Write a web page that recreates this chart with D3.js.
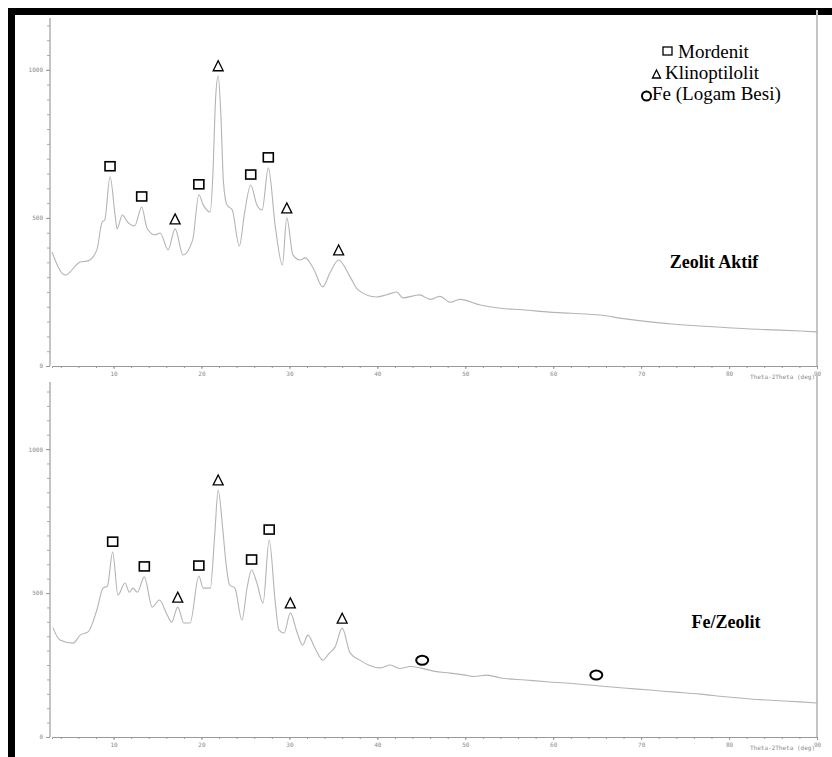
<!DOCTYPE html>
<html>
<head>
<meta charset="utf-8">
<script src="https://cdn.jsdelivr.net/npm/d3@7"></script>
<style>
  body { margin: 0; background: #fff; }
  svg { display: block; }
</style>
</head>
<body>
<svg></svg>
<script>
// data pola XRD (2theta, counts)
const aktifTheta = [3.0, 4.5, 6.2, 7.1, 8.1, 8.7, 9.0, 9.6, 10.2, 10.4, 11.0, 11.6, 12.4, 13.2, 13.8, 14.7, 15.3, 16.2, 17.0, 17.9, 19.0, 19.7, 20.2, 21.0, 21.3, 21.6, 21.9, 22.2, 22.5, 22.9, 23.5, 24.3, 24.9, 25.6, 26.3, 26.9, 27.6, 28.4, 29.2, 29.7, 30.4, 31.2, 31.8, 32.7, 33.8, 34.6, 35.6, 36.9, 37.8, 39.9, 41.0, 42.2, 42.9, 44.8, 46.0, 47.1, 48.3, 49.4, 51.7, 54.0, 56.5, 59.6, 62.0, 65.3, 68.0, 71.0, 73.5, 76.7, 79.5, 82.4, 85.0, 88.1, 90.0];
const aktifCounts = [385, 307, 351, 355, 392, 486, 493, 639, 503, 463, 510, 486, 473, 537, 466, 443, 449, 392, 463, 375, 426, 578, 544, 520, 650, 900, 980, 850, 620, 544, 527, 405, 517, 611, 544, 527, 669, 470, 341, 500, 375, 358, 365, 331, 267, 314, 358, 301, 257, 233, 240, 250, 230, 240, 225, 235, 215, 225, 206, 195, 190, 182, 178, 172, 160, 149, 142, 135, 130, 125, 122, 118, 115];

const feTheta = [3.1, 3.9, 5.4, 6.2, 7.1, 8.1, 8.8, 9.3, 9.9, 10.5, 11.3, 11.8, 12.2, 12.7, 13.5, 14.4, 15.2, 16.1, 16.6, 17.3, 18.0, 18.7, 19.7, 20.2, 21.0, 21.5, 21.9, 22.4, 22.8, 23.2, 23.8, 24.6, 25.2, 25.7, 26.3, 27.0, 27.7, 28.4, 28.8, 29.4, 30.1, 30.9, 31.5, 32.1, 32.9, 33.8, 34.5, 35.2, 36.0, 36.9, 38.0, 39.0, 40.3, 41.5, 42.5, 43.8, 44.9, 46.5, 48.3, 50.0, 51.0, 52.5, 54.0, 56.8, 59.6, 62.5, 65.3, 68.0, 71.0, 73.8, 76.7, 79.5, 82.4, 85.2, 88.1, 90.0];
const feCounts = [380, 337, 326, 354, 365, 441, 517, 524, 642, 493, 535, 503, 517, 503, 556, 451, 476, 424, 399, 451, 396, 396, 559, 517, 517, 700, 858, 729, 600, 528, 517, 406, 521, 580, 535, 465, 684, 465, 372, 361, 431, 361, 319, 354, 309, 267, 290, 313, 378, 292, 267, 250, 240, 250, 238, 245, 240, 228, 222, 215, 210, 215, 205, 198, 191, 185, 177, 170, 163, 156, 149, 140, 132, 127, 122, 118];

// posisi puncak (2theta) yang ditandai
const mordenitAktif = [9.6, 13.2, 19.7, 25.6, 27.6];
const klinoAktif = [17.0, 21.9, 29.7, 35.6];
const mordenitFe = [9.9, 13.5, 19.7, 25.7, 27.7];
const klinoFe = [17.3, 21.9, 30.1, 36.0];
const besiFe = [45.1, 64.9];

const xTicks = [10, 20, 30, 40, 50, 60, 70, 80, 90];
const yTicks = [0, 500, 1000];
const legendItems = ["Mordenit", "Klinoptilolit", "Fe (Logam Besi)"];

const svg = d3.select("svg")
    .attr("width", 832)
    .attr("height", 757);

// bingkai hitam
svg.append("rect").attr("x", 8).attr("y", 8).attr("width", 824).attr("height", 7).attr("fill", "#000");
svg.append("rect").attr("x", 8).attr("y", 8).attr("width", 7).attr("height", 749).attr("fill", "#000");

const x = d3.scaleLinear().domain([3, 90]).range([52, 817]);

function panel(theta, counts, top, bottom, yMax, title, titleX, titleY, marks) {
    const y = d3.scaleLinear().domain([0, yMax]).range([bottom, top]);
    const g = svg.append("g");
    const data = theta.map((t, i) => [t, counts[i]]);

    // sumbu y kiri dengan minor tick tiap 50
    g.append("line").attr("x1", 50).attr("x2", 50).attr("y1", top).attr("y2", bottom)
        .attr("stroke", "#c4c4c4").attr("stroke-width", 2);
    g.append("g").attr("transform", "translate(50,0)")
        .call(d3.axisLeft(y).tickValues(d3.range(0, yMax, 50)).tickSize(3).tickFormat(""))
        .call(a => a.select(".domain").remove())
        .call(a => a.selectAll("line").attr("stroke", "#aaa"));
    g.append("g").attr("transform", "translate(50,0)")
        .call(d3.axisLeft(y).tickValues(yTicks).tickSize(4).tickPadding(3).tickFormat(d3.format("d")))
        .call(a => a.select(".domain").remove())
        .call(a => a.selectAll("line").attr("stroke", "#999"))
        .call(a => a.selectAll("text").attr("fill", "#8a8a8a").attr("font-size", 6)
            .attr("font-family", "DejaVu Sans Mono"));

    // garis kanan
    g.append("line").attr("x1", 817).attr("x2", 817).attr("y1", top - 8).attr("y2", bottom)
        .attr("stroke", "#c4c4c4").attr("stroke-width", 2);

    // sumbu x
    g.append("g").attr("transform", `translate(0,${bottom})`)
        .call(d3.axisBottom(x).tickValues(d3.range(4, 91, 2)).tickSize(2).tickFormat(""))
        .call(a => a.select(".domain").attr("stroke", "#999"))
        .call(a => a.selectAll("line").attr("stroke", "#999"));
    g.append("g").attr("transform", `translate(0,${bottom})`)
        .call(d3.axisBottom(x).tickValues(xTicks).tickSize(3).tickPadding(3))
        .call(a => a.select(".domain").remove())
        .call(a => a.selectAll("line").attr("stroke", "#999"))
        .call(a => a.selectAll("text").attr("fill", "#8a8a8a").attr("font-size", 6)
            .attr("font-family", "DejaVu Sans Mono"));
    g.append("text").attr("x", 815).attr("y", bottom + 13).attr("text-anchor", "end")
        .attr("font-family", "DejaVu Sans Mono").attr("font-size", 6).attr("fill", "#8a8a8a")
        .text("Theta-2Theta (deg)");

    // kurva
    g.append("path").datum(data)
        .attr("fill", "none").attr("stroke", "#b4b4b4").attr("stroke-width", 1.1)
        .attr("d", d3.line().x(d => x(d[0])).y(d => y(d[1])).curve(d3.curveMonotoneX));

    // judul
    g.append("text").attr("x", titleX).attr("y", titleY).attr("text-anchor", "middle")
        .attr("font-family", "Liberation Serif").attr("font-weight", "bold").attr("font-size", 18)
        .text(title);

    // penanda puncak
    const peak = t => d3.max(data.filter(d => Math.abs(d[0] - t) < 0.45), d => d[1]);
    const sym = g.append("g").attr("fill", "none").attr("stroke", "#000");
    sym.selectAll(".sq").data(marks.sq).join("rect")
        .attr("x", t => x(t) - 5).attr("y", t => y(peak(t)) - 15)
        .attr("width", 10).attr("height", 9).attr("stroke-width", 1.6);
    sym.selectAll(".tri").data(marks.tri).join("path")
        .attr("d", t => {
            const cx = x(t), cy = y(peak(t)) - 10;
            return `M${cx},${cy - 5}L${cx + 5},${cy + 5}L${cx - 5},${cy + 5}Z`;
        })
        .attr("stroke-width", 1.3);
    sym.selectAll(".circ").data(marks.circ || []).join("ellipse")
        .attr("cx", t => x(t)).attr("cy", t => y(d3.min(data.filter(d => Math.abs(d[0] - t) < 1.6), d => d[1])) - 11)
        .attr("rx", 6).attr("ry", 4.5).attr("stroke-width", 2);
}

panel(aktifTheta, aktifCounts, 18, 366, 1175, "Zeolit Aktif", 714, 268,
    { sq: mordenitAktif, tri: klinoAktif });
panel(feTheta, feCounts, 382, 737, 1233, "Fe/Zeolit", 726, 628,
    { sq: mordenitFe, tri: klinoFe, circ: besiFe });

// legenda
const leg = svg.append("g").attr("font-family", "Liberation Serif").attr("font-size", 19);
leg.selectAll("text").data(legendItems).join("text")
    .attr("x", (d, i) => [678, 665, 652][i])
    .attr("y", (d, i) => 58 + i * 21)
    .text(d => d);
leg.append("rect").attr("x", 663).attr("y", 47).attr("width", 9).attr("height", 8)
    .attr("fill", "none").attr("stroke", "#000").attr("stroke-width", 1.3);
leg.append("path").attr("d", "M656.5,70L660.5,78L652.5,78Z")
    .attr("fill", "none").attr("stroke", "#000").attr("stroke-width", 1.3);
leg.append("ellipse").attr("cx", 646.5).attr("cy", 96).attr("rx", 4.5).attr("ry", 4.5)
    .attr("fill", "none").attr("stroke", "#000").attr("stroke-width", 2);
</script>
</body>
</html>
